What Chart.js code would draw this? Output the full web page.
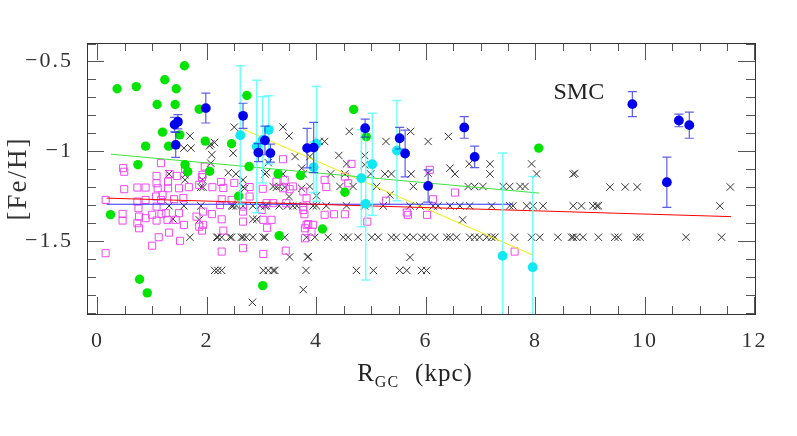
<!DOCTYPE html>
<html>
<head>
<meta charset="utf-8">
<script src="https://cdn.jsdelivr.net/npm/chart.js@4.4.1/dist/chart.umd.min.js"></script>
<style>
  html, body { margin: 0; padding: 0; background: #fff; }
  canvas { display: block; }
</style>
</head>
<body>
<canvas id="graph" width="797" height="436"></canvas>
<script>
// tick labels
const xTickLabels = [0, 2, 4, 6, 8, 10, 12]
const yTickLabels = [-1.5, -1, -0.5]

// black crosses  [R_GC, [Fe/H]]
const crossPts = [
  [1.69,-0.915],[1.58,-0.983],[1.71,-0.983],[2.07,-0.96],[2.05,-0.97],[2.14,-0.952],[2.09,-1.02],[2.07,-1.067],
  [2.50,-0.866],[3.39,-0.866],[3.50,-0.915],[2.48,-1.011],[3.61,-1.03],[3.12,-1.064],[3.73,-1.095],[3.88,-1.03],
  [1.31,-1.127],[2.39,-1.12],[2.53,-1.127],[3.06,-1.127],[3.09,-1.119],[3.39,-1.127],[3.76,-1.127],
  [1.60,-1.132],[1.60,-1.16],[1.92,-1.16],[2.66,-1.16],
  [1.89,-1.201],[1.93,-1.201],[2.66,-1.2],[2.69,-1.207],[3.21,-1.197],[3.27,-1.201],[3.33,-1.197],[3.42,-1.201],[3.73,-1.207],[3.88,-1.197],
  [3.50,-1.253],[4.0,-1.249],[5.34,-1.244],
  [1.31,-1.305],[1.58,-1.305],[1.89,-1.305],[2.45,-1.305],[2.48,-1.305],[2.54,-1.305],[2.66,-1.305],[2.84,-1.305],
  [2.97,-1.305],[3.06,-1.305],[3.09,-1.305],[3.32,-1.305],[3.47,-1.305],[3.57,-1.305],[3.64,-1.305],[3.94,-1.305],
  [4.0,-1.305],[4.18,-1.305],[4.55,-1.305],[4.88,-1.305],[5.22,-1.305],[5.71,-1.305],[5.89,-1.305],[6.13,-1.305],
  [6.22,-1.305],[6.44,-1.305],[6.62,-1.305],[6.80,-1.305],[7.20,-1.305],[7.53,-1.305],[7.59,-1.305],[7.84,-1.305],
  [7.96,-1.305],[8.14,-1.305],[8.69,-1.305],[8.84,-1.305],[9.05,-1.305],[9.12,-1.305],[9.15,-1.305],[11.37,-1.305],
  [1.38,-1.378],[1.86,-1.383],[2.84,-1.38],[2.91,-1.38],[6.67,-1.383],
  [1.69,-1.48],[2.18,-1.48],[2.20,-1.48],[2.27,-1.48],[2.42,-1.48],[2.45,-1.48],[2.63,-1.48],[2.66,-1.48],
  [2.72,-1.48],[2.84,-1.48],[3.03,-1.48],[3.06,-1.48],[3.42,-1.48],[3.82,-1.48],[3.97,-1.48],
  [4.21,-1.48],[4.49,-1.48],[4.58,-1.48],[4.76,-1.48],[5.01,-1.48],[5.13,-1.48],[5.37,-1.48],[5.46,-1.48],
  [5.65,-1.48],[5.77,-1.48],[5.92,-1.48],[6.01,-1.48],[6.16,-1.48],[6.38,-1.48],[6.44,-1.48],[6.56,-1.48],
  [6.80,-1.48],[6.89,-1.48],[6.98,-1.48],[7.11,-1.48],[7.20,-1.48],[7.26,-1.48],[7.62,-1.48],[7.93,-1.48],
  [8.08,-1.48],[8.41,-1.48],[8.66,-1.48],[8.69,-1.48],[8.75,-1.48],[8.87,-1.48],[9.15,-1.48],[9.45,-1.48],
  [9.51,-1.48],[9.85,-1.48],[9.91,-1.48],[10.75,-1.48],[11.40,-1.48],
  [3.51,-1.59],[3.84,-1.59],[3.85,-1.588],[5.71,-1.592],
  [2.14,-1.665],[2.20,-1.665],[2.27,-1.665],[3.03,-1.665],[3.12,-1.665],[3.21,-1.665],[3.24,-1.665],[3.81,-1.665],
  [4.73,-1.665],[5.04,-1.665],[5.52,-1.665],[5.65,-1.665],[5.92,-1.665],[6.01,-1.665],
  [3.76,-1.772],[2.83,-1.843],
  [4.05,-0.946],[4.15,-0.946],[4.60,-0.89],[4.41,-1.024],[5.27,-0.946],[5.72,-0.89],[6.04,-0.946],[6.41,-0.918],
  [4.88,-1.024],[4.88,-1.076],[4.55,-1.071],[6.44,-1.095],[6.79,-1.071],[7.17,-1.071],[7.93,-1.071],
  [4.26,-1.127],[4.52,-1.127],[4.99,-1.127],[5.25,-1.127],[5.37,-1.127],[5.73,-1.127],[6.04,-1.123],[6.53,-1.127],
  [7.17,-1.127],[8.02,-1.127],[8.69,-1.128],[8.72,-1.124],
  [4.43,-1.197],[4.67,-1.197],[5.10,-1.197],[5.77,-1.197],[6.77,-1.197],[6.89,-1.197],[7.04,-1.197],[7.41,-1.197],
  [7.53,-1.197],[7.72,-1.197],[7.81,-1.197],[9.36,-1.2],[9.64,-1.2],[9.86,-1.2],[11.56,-1.2]
]

// magenta open squares
const squarePts = [
  [0.15,-1.272],[0.15,-1.569],[0.47,-1.095],[0.49,-1.115],[0.49,-1.212],[0.46,-1.35],[0.46,-1.387],
  [0.73,-1.203],[0.73,-1.281],[0.75,-1.318],[0.76,-1.365],[0.73,-1.402],[0.76,-1.43],
  [0.88,-1.203],[0.88,-1.272],[0.88,-1.374],[1.0,-1.355],[1.0,-1.527],
  [1.08,-1.138],[1.08,-1.179],[1.10,-1.207],[1.07,-1.253],[1.08,-1.309],[1.08,-1.387],[1.12,-1.48],
  [1.16,-1.067],[1.19,-1.244],[1.16,-1.272],[1.17,-1.351],
  [1.29,-1.17],[1.29,-1.207],[1.32,-1.127],[1.25,-1.346],[1.28,-1.383],[1.31,-1.454],
  [1.40,-1.268],[1.45,-1.138],[1.49,-1.207],[1.49,-1.346],[1.43,-1.383],[1.51,-1.50],
  [1.57,-1.262],[1.58,-1.411],[1.60,-1.10],[1.67,-1.201],
  [1.81,-1.365],[1.86,-1.188],[1.86,-1.421],[1.91,-1.145],[1.92,-1.132],[1.91,-1.443],[1.93,-1.337],[1.93,-1.411],[1.96,-1.086],
  [2.09,-1.351],[2.10,-1.201],[2.26,-1.172],[2.30,-1.205],
  [2.24,-1.3],[2.27,-1.268],[2.27,-1.38],[2.27,-1.56],[2.30,-1.443],
  [2.45,-1.272],[2.50,-1.177],
  [2.66,-1.309],[2.66,-1.337],[2.66,-1.393],[2.66,-1.541],[2.78,-1.2],[2.78,-1.253],
  [3.0,-1.328],[3.02,-1.21],[3.03,-1.383],[3.03,-1.573],[3.09,-1.29],[3.10,-1.427],
  [3.18,-1.383],[3.21,-1.29],[3.27,-1.17],[3.39,-1.045],[3.39,-1.207],[3.42,-1.16],[3.45,-1.29],[3.44,-1.555],[3.51,-1.212],[3.57,-1.197],
  [3.76,-1.225],[3.82,-1.262],[3.76,-1.309],[3.76,-1.328],[3.78,-1.352],[3.82,-1.411],[3.79,-1.43],[3.79,-1.486],
  [3.85,-1.406],[3.91,-1.449],[3.94,-1.411],
  [4.15,-1.16],[4.18,-1.2],[4.52,-1.142],[4.58,-1.179],[4.64,-1.071],[4.15,-1.355],[4.32,-1.352],[4.52,-1.352],[4.93,-1.393],
  [5.27,-1.276],[5.65,-1.342],[5.67,-1.355],[6.02,-1.355],[6.07,-1.104],[6.13,-1.268],[6.53,-1.231],[7.62,-1.56]
]

// green filled circles
const greenPts = [
  [0.36,-0.652],[0.71,-0.64],[1.59,-0.524],[1.23,-0.602],[1.44,-0.652],[1.09,-0.74],[1.42,-0.74],[1.86,-0.766],
  [2.73,-0.69],[1.19,-0.894],[1.505,-0.909],[0.88,-0.972],[1.30,-0.972],[1.97,-0.944],[2.45,-0.959],
  [0.74,-1.075],[1.60,-1.075],[1.65,-1.114],[2.05,-1.112],[2.77,-1.086],[3.30,-1.127],[3.71,-1.136],
  [4.68,-0.768],[4.91,-0.92],[8.06,-0.983],[4.52,-1.229],[4.11,-1.434],[0.24,-1.354],
  [0.77,-1.714],[0.91,-1.79],[3.02,-1.75],[3.32,-1.471],[2.58,-1.251]
]

// blue filled circles with errors
const blueX   = [1.98, 2.66, 1.41, 1.47, 1.43, 2.94, 3.06, 3.16, 3.83, 3.95, 4.89, 5.52, 5.62, 6.70, 6.89, 6.04, 9.77, 10.62, 10.81, 10.40]
const blueY   = [-0.76, -0.803, -0.852, -0.836, -0.965, -1.008, -0.94, -1.011, -0.983, -0.98, -0.872, -0.928, -1.013, -0.868, -1.032, -1.194, -0.738, -0.829, -0.855, -1.173]
const blueErr = [0.083, 0.07, 0.04, 0.04, 0.07, 0.05, 0.08, 0.05, 0.11, 0.14, 0.05, 0.06, 0.13, 0.06, 0.06, 0.09, 0.07, 0.035, 0.073, 0.14]

// cyan filled circles with errors
const cyanX   = [2.61, 2.91, 3.02, 3.13, 4.0, 3.95, 4.82, 5.02, 4.90, 5.47, 7.40, 7.95]
const cyanY   = [-0.911, -0.974, -0.937, -0.881, -0.959, -1.09, -1.151, -1.073, -1.294, -0.997, -1.584, -1.647]
const cyanErr = [0.387, 0.37, 0.24, 0.19, 0.32, 0.14, 0.27, 0.285, 0.424, 0.28, 0.573, 0.505]

// fitted lines
const redFitX = [0.17, 11.57],   redFitY = [-1.262, -1.365]
const blueFitX = [0.17, 7.59],   blueFitY = [-1.296, -1.296]
const greenFitX = [0.245, 8.07], greenFitY = [-1.017, -1.234]
const yellowFitX = [2.66, 7.95], yellowFitY = [-0.877, -1.579]

const serif = "'Liberation Serif', 'Times New Roman', serif"
const pairs = arr => arr.map(p => ({x: p[0], y: p[1]}))
const zip = (xs, ys) => xs.map((x, i) => ({x: x, y: ys[i]}))
const fmt = v => v < 0 ? '\u2212' + Math.abs(v) : String(v)

// wider letter spacing for the tick labels, like the original plot font
const spacing = {
  id: 'spacing',
  beforeDraw(chart) { chart.ctx.letterSpacing = '2px' }
}

// error bars drawn just before their dataset
const errorBars = {
  id: 'errorBars',
  beforeDatasetDraw(chart, args) {
    const ds = chart.data.datasets[args.index]
    if (!ds.errors) return
    const ctx = chart.ctx, xs = chart.scales.x, ys = chart.scales.y, a = chart.chartArea
    ctx.save()
    ctx.beginPath()
    ctx.rect(a.left, a.top, a.right - a.left, a.bottom - a.top)
    ctx.clip()
    ctx.strokeStyle = ds.errorColor
    ctx.lineWidth = ds.errorWidth
    ds.data.forEach((p, i) => {
      const px = xs.getPixelForValue(p.x)
      const top = ys.getPixelForValue(p.y + ds.errors[i])
      const bot = ys.getPixelForValue(p.y - ds.errors[i])
      ctx.beginPath()
      ctx.moveTo(px, top); ctx.lineTo(px, bot)
      ctx.moveTo(px - 4.5, top); ctx.lineTo(px + 4.5, top)
      ctx.moveTo(px - 4.5, bot); ctx.lineTo(px + 4.5, bot)
      ctx.stroke()
    })
    ctx.restore()
  }
}

// box, inward ticks on all four sides, titles
const frame = {
  id: 'frame',
  afterDraw(chart) {
    const ctx = chart.ctx, xs = chart.scales.x, ys = chart.scales.y, a = chart.chartArea
    ctx.save()
    ctx.strokeStyle = '#555'
    ctx.lineWidth = 1
    for (let i = 0; i <= 24; i++) {        // every 0.5 kpc
      const v = i / 2
      const px = Math.round(xs.getPixelForValue(v)) + 0.5
      const len = (v % 2 === 0) ? 17 : 8
      ctx.beginPath()
      ctx.moveTo(px, a.bottom); ctx.lineTo(px, a.bottom - len)
      ctx.moveTo(px, a.top); ctx.lineTo(px, a.top + len)
      ctx.stroke()
    }
    for (let i = 4; i <= 19; i++) {        // every 0.1 dex
      const v = -i / 10
      const py = Math.round(ys.getPixelForValue(v)) + 0.5
      const len = (i % 5 === 0) ? 17 : 9
      ctx.beginPath()
      ctx.moveTo(a.left, py); ctx.lineTo(a.left + len, py)
      ctx.moveTo(a.right, py); ctx.lineTo(a.right - len, py)
      ctx.stroke()
    }
    ctx.strokeStyle = '#333'
    ctx.strokeRect(Math.round(a.left) + 0.5, Math.round(a.top) + 0.5, Math.round(a.right - a.left), Math.round(a.bottom - a.top))

    ctx.fillStyle = '#222'
    ctx.textBaseline = 'alphabetic'
    ctx.letterSpacing = '1px'
    // x title R_GC (kpc)
    const big = '25px ' + serif, small = '16px ' + serif
    ctx.font = big
    const wR = ctx.measureText('R').width, wK = ctx.measureText('(kpc)').width
    ctx.font = small
    const wG = ctx.measureText('GC').width
    const gap = 16
    let x0 = (a.left + a.right) / 2 - 6 - (wR + wG + gap + wK) / 2
    const base = 381
    ctx.font = big;   ctx.fillText('R', x0, base)
    ctx.font = small; ctx.fillText('GC', x0 + wR, base + 6)
    ctx.font = big;   ctx.fillText('(kpc)', x0 + wR + wG + gap, base)
    // SMC label
    ctx.letterSpacing = '0px'
    ctx.font = '24px ' + serif
    ctx.fillText('SMC', xs.getPixelForValue(8.33), ys.getPixelForValue(-0.708))
    ctx.restore()
  }
}

new Chart(document.getElementById('graph'), {
  type: 'scatter',
  data: {
    datasets: [
      { label: 'crosses', data: pairs(crossPts), pointStyle: 'crossRot', pointRadius: 5.2,
        borderColor: '#333', borderWidth: 1, backgroundColor: 'transparent', order: 7 },
      { label: 'squares', data: pairs(squarePts), pointStyle: 'rect', pointRadius: 5,
        borderColor: '#f048f0', borderWidth: 1, backgroundColor: 'transparent', order: 6 },
      { label: 'red fit', data: zip(redFitX, redFitY), showLine: true, pointRadius: 0,
        borderColor: '#ff0000', borderWidth: 1, order: 5 },
      { label: 'blue fit', data: zip(blueFitX, blueFitY), showLine: true, pointRadius: 0,
        borderColor: '#3030ff', borderWidth: 1, order: 5 },
      { label: 'green fit', data: zip(greenFitX, greenFitY), showLine: true, pointRadius: 0,
        borderColor: '#40e040', borderWidth: 1, order: 5 },
      { label: 'yellow fit', data: zip(yellowFitX, yellowFitY), showLine: true, pointRadius: 0,
        borderColor: '#f0f000', borderWidth: 1, order: 5 },
      { label: 'green', data: pairs(greenPts), pointStyle: 'circle', pointRadius: 4.7,
        backgroundColor: '#00e400', borderWidth: 0, order: 4 },
      { label: 'cyan', data: zip(cyanX, cyanY), errors: cyanErr, errorColor: 'rgba(80,255,255,0.8)', errorWidth: 1.5,
        pointStyle: 'circle', pointRadius: 4.9, backgroundColor: '#10e8f2', borderWidth: 0, order: 3 },
      { label: 'blue', data: zip(blueX, blueY), errors: blueErr, errorColor: 'rgba(40,40,230,0.75)', errorWidth: 1.2,
        pointStyle: 'circle', pointRadius: 4.9, backgroundColor: '#0000ee', borderWidth: 0, order: 2 }
    ]
  },
  options: {
    responsive: false,
    animation: false,
    devicePixelRatio: 1,
    events: [],
    layout: { padding: { left: 0, top: 43, right: 42, bottom: 0 } },
    plugins: { legend: { display: false }, tooltip: { enabled: false } },
    scales: {
      x: {
        type: 'linear', min: -0.19, max: 12.01,
        grid: { display: false, drawTicks: false }, border: { display: false },
        afterBuildTicks: s => { s.ticks = xTickLabels.map(v => ({ value: v })) },
        afterFit: s => { s.height = 122 },
        ticks: { font: { family: serif, size: 22 }, color: '#333', padding: 14,
                 maxRotation: 0, autoSkip: false, callback: v => fmt(v) }
      },
      y: {
        type: 'linear', min: -1.908, max: -0.397,
        grid: { display: false, drawTicks: false }, border: { display: false },
        afterBuildTicks: s => { s.ticks = yTickLabels.map(v => ({ value: v })) },
        afterFit: s => { s.width = 87 },
        ticks: { font: { family: serif, size: 22 }, color: '#333', padding: 14,
                 autoSkip: false, callback: v => fmt(v) },
        title: { display: true, text: '[Fe/H]', color: '#333',
                 font: { family: serif, size: 27 }, padding: { top: 3, bottom: 0 } }
      }
    }
  },
  plugins: [spacing, errorBars, frame]
})
</script>
</body>
</html>
